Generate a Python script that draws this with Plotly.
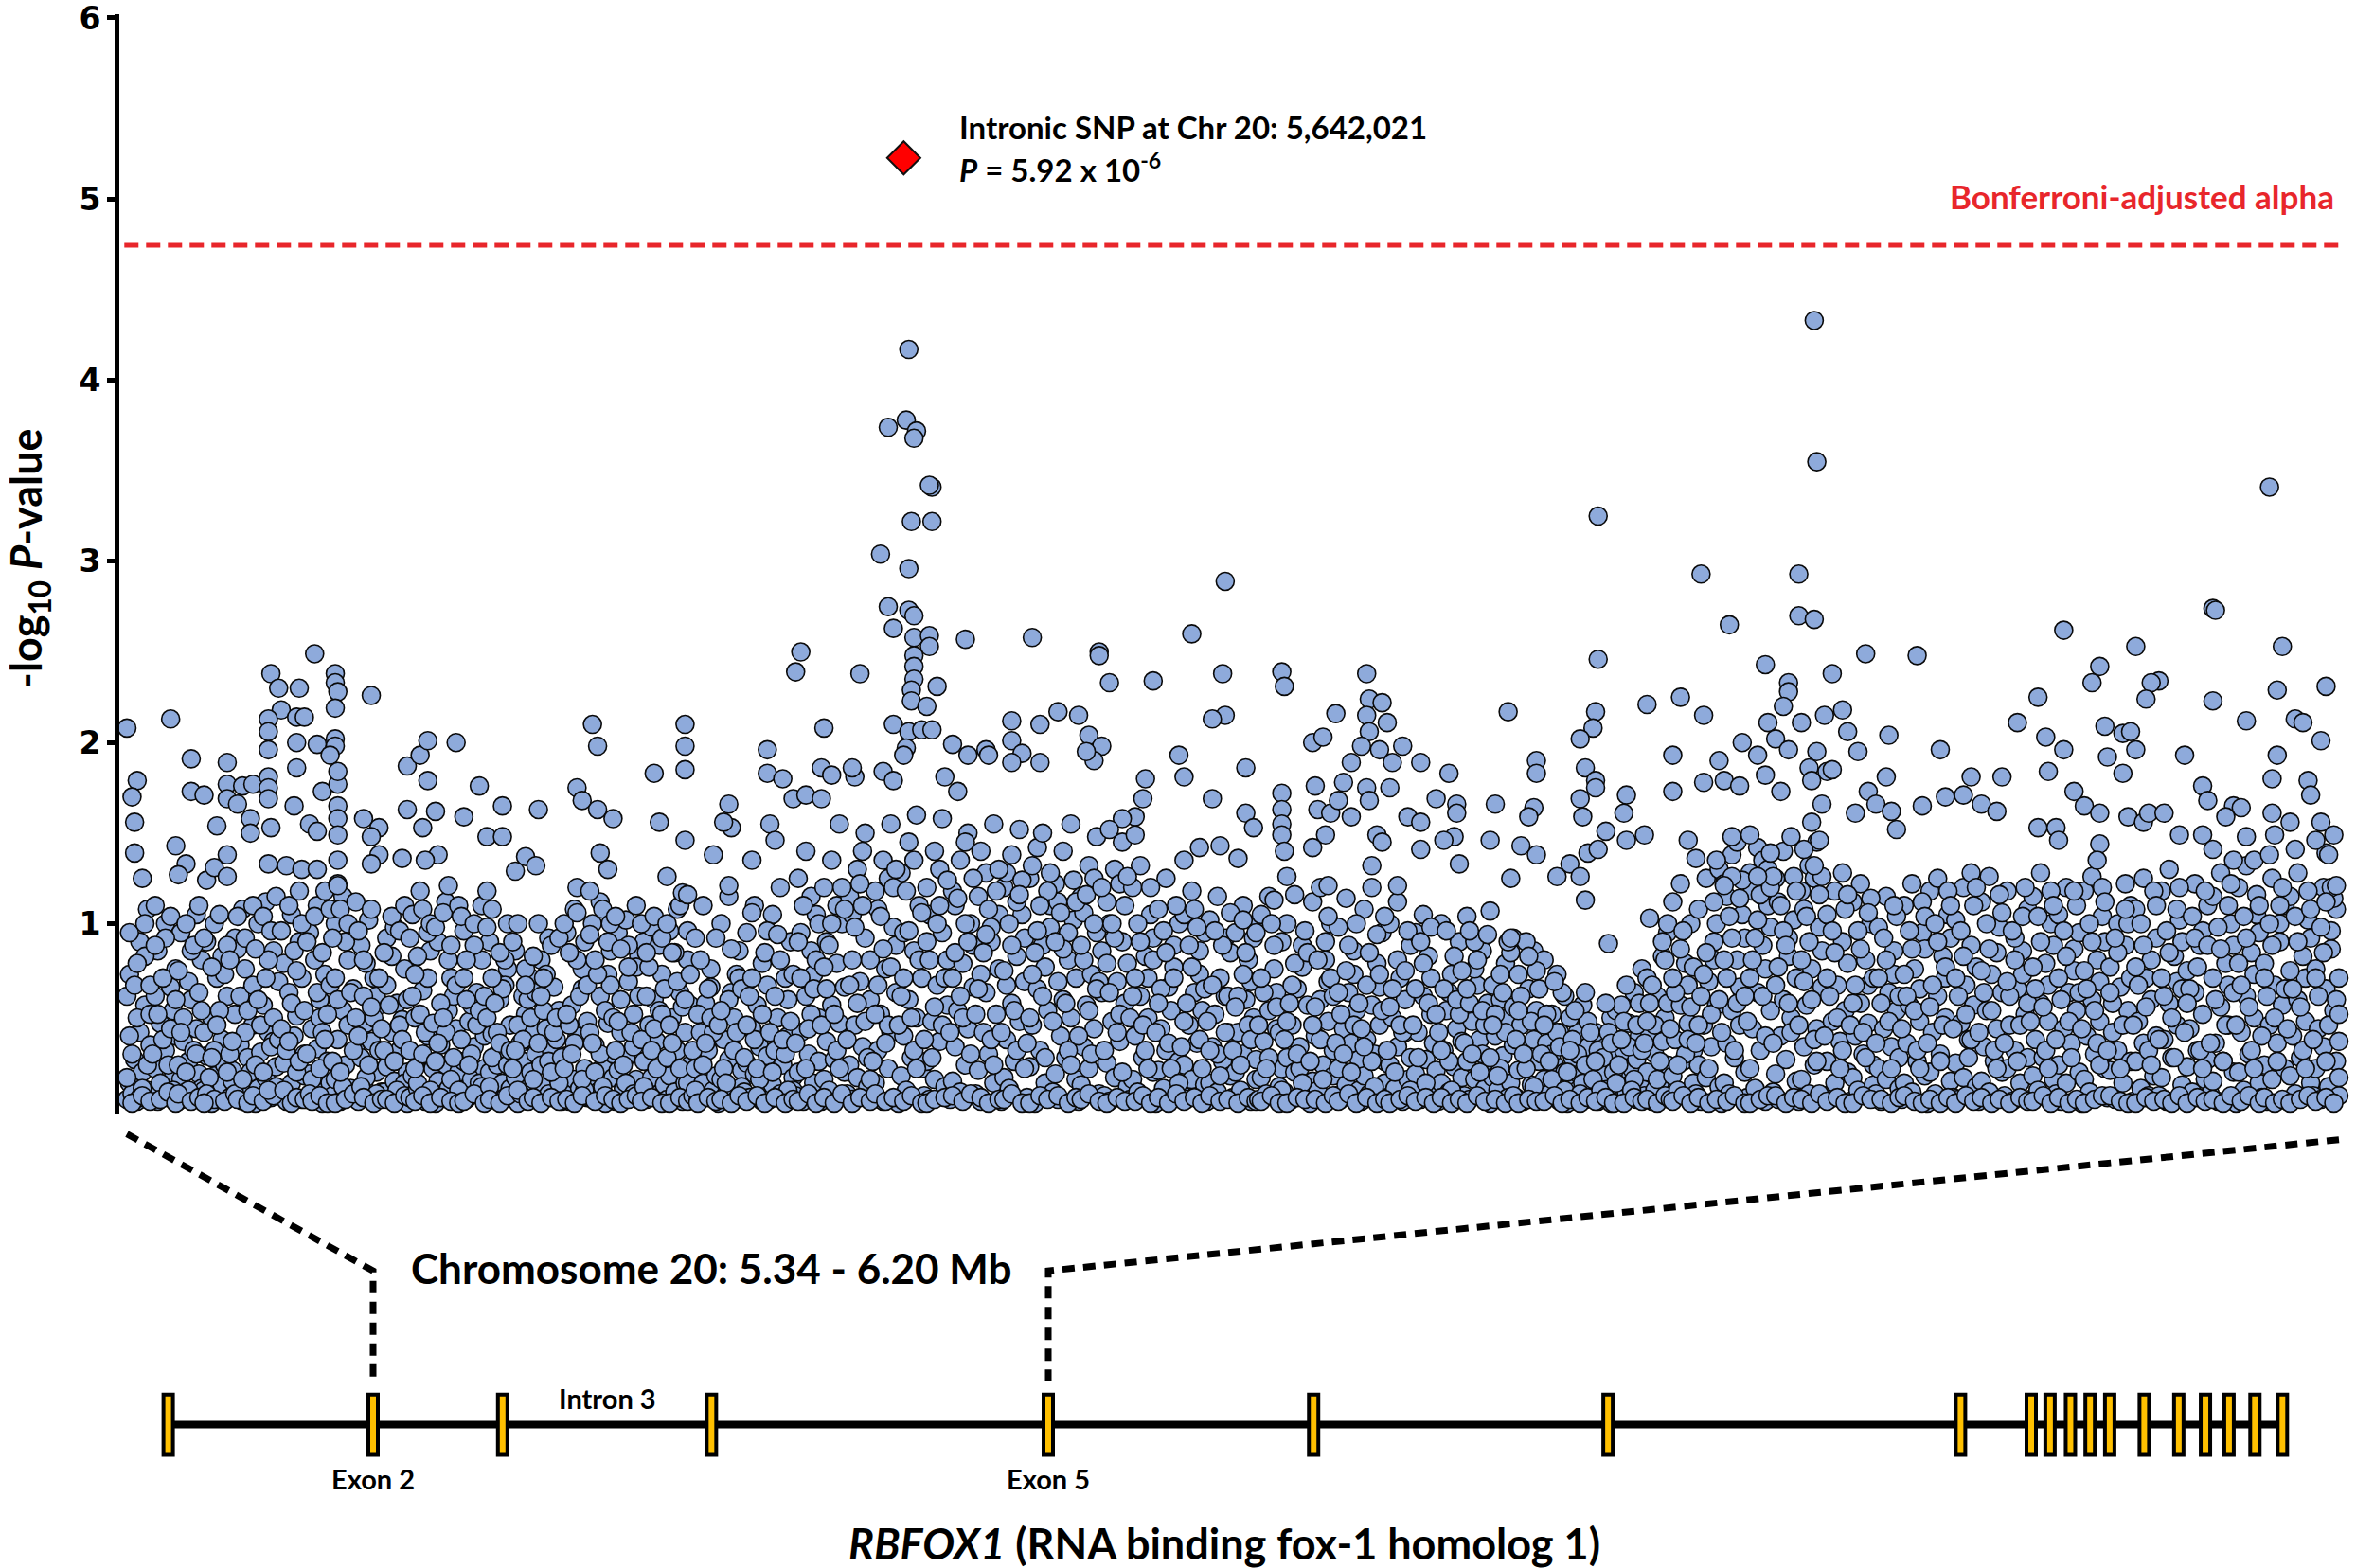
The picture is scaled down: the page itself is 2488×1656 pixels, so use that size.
import math
import plotly.graph_objects as go

# ---------------- data ----------------
REGION_START_MB = 5.34
REGION_END_MB = 6.20
LEAD_SNP_MB = 5.642021
LEAD_SNP_P = 5.92e-6
BONFERRONI_NEG_LOG10 = 4.745
Y_TICKS = [1, 2, 3, 4, 5, 6]

# SNPs: (position as kb offset from 5.34 Mb, -log10 P x 100)
snps_5340_5450 = [
    (0,3),(1,12),(2,6),(3,25),(4,2),(5,40),(6,18),(7,55),(8,8),(9,33),(1,72),(5,90),(8,108),(0,60),
    (10,5),(11,20),(12,2),(13,45),(14,11),(15,30),(16,4),(17,65),(18,15),(19,38),(12,85),(15,100),(18,52),(11,110),
    (20,2),(21,14),(22,35),(23,7),(24,24),(25,58),(26,3),(27,42),(28,17),(29,80),(21,95),(24,68),(27,105),(29,9),
    (30,8),(31,27),(32,3),(33,48),(34,16),(35,70),(36,5),(37,36),(38,22),(39,60),(31,90),(34,100),(37,11),(33,1),
    (40,4),(41,19),(42,50),(43,10),(44,33),(45,2),(46,75),(47,26),(48,6),(49,44),(42,92),(45,108),(48,62),(41,13),
    (50,1),(51,9),(52,29),(53,55),(54,15),(55,40),(56,4),(57,85),(58,21),(59,68),(51,100),(54,112),(57,35),(59,7),
    (60,6),(61,23),(62,2),(63,62),(64,12),(65,38),(66,49),(67,90),(68,3),(69,28),(61,78),(64,105),(67,118),(69,16),
    (70,3),(71,17),(72,42),(73,8),(74,31),(75,58),(76,1),(77,72),(78,24),(79,12),(71,95),(74,110),(77,118),(75,48),
    (80,5),(81,14),(82,36),(83,2),(84,52),(85,22),(86,80),(87,9),(88,64),(89,30),(81,100),(84,115),(87,45),(82,122),
    (90,2),(91,26),(92,11),(93,45),(94,4),(95,35),(96,70),(97,18),(98,55),(99,7),(91,88),(94,102),(97,60),(93,15),
    (100,7),(101,21),(102,3),(103,40),(104,13),(105,56),(106,30),(107,5),(108,75),(109,18),(101,92),(104,98),(107,47),(109,1),
    (0,15),(2,28),(4,48),(6,9),(8,22),(9,50),(3,66),(7,82),(1,38),(5,4),(2,1),(6,5),(9,2),
    (10,28),(12,50),(14,36),(16,22),(18,8),(19,75),(11,60),(13,12),(17,42),(15,92),(13,3),(16,7),(19,1),
    (20,22),(22,48),(24,8),(26,30),(28,62),(21,40),(23,18),(25,85),(27,28),(29,52),(20,6),(25,2),(28,4),
    (30,40),(32,15),(34,30),(36,52),(38,72),(31,6),(33,26),(35,44),(37,82),(39,18),(34,3),(38,2),(30,1),
    (40,28),(42,6),(44,60),(46,40),(48,18),(41,35),(43,86),(45,14),(47,52),(49,66),(43,3),(47,1),(49,5),
    (50,22),(52,44),(54,70),(56,32),(58,10),(51,58),(53,18),(55,80),(57,48),(59,36),(53,2),(57,5),(55,8),
    (60,42),(62,30),(64,56),(66,18),(68,70),(61,8),(63,35),(65,85),(67,24),(69,52),(64,1),(66,4),(69,3),
    (70,28),(72,14),(74,62),(76,40),(78,50),(71,6),(73,80),(75,20),(77,36),(79,66),(72,2),(75,5),(78,1),
    (80,24),(82,58),(84,10),(86,44),(88,30),(81,70),(83,18),(85,90),(87,62),(89,48),(81,1),(85,3),(88,6),
    (90,38),(92,60),(94,22),(96,48),(98,30),(91,10),(93,78),(95,54),(97,6),(99,42),(92,4),(96,1),(99,3),
    (100,30),(102,55),(104,24),(106,44),(108,12),(101,66),(103,82),(105,8),(107,36),(109,58),(101,3),(104,1),(108,5),
    (1,95),(4,78),(7,100),(9,66),(11,88),(14,70),(17,104),(19,58),(20,74),(23,100),(26,88),(28,110),
    (30,92),(33,76),(36,105),(39,88),(40,80),(43,104),(46,92),(49,110),(50,86),(53,104),(56,96),(58,115),
    (60,96),(63,110),(66,74),(68,100),(70,90),(73,104),(76,84),(79,108),(80,92),(83,108),(86,100),(89,112),
    (90,96),(92,80),(95,108),(98,70),(100,84),(103,104),(106,96),(108,110),
    (73,249),(56,238),(59,230),(67,230),(81,238),(81,233),(82,228),(81,219),(95,226),(17,213),(0,208),(60,218),
    (55,213),(55,206),(55,196),(66,214),(69,214),(66,200),(74,199),(81,202),(81,198),(79,193),(25,191),(39,189),
    (4,179),(2,170),(25,173),(30,171),(39,177),(39,169),(45,176),(49,177),(55,181),(55,175),(55,169),(66,186),
    (76,173),(82,177),(82,184),(65,165),(71,155),(74,151),(43,166),(48,158),(48,150),(56,153),(35,154),(3,156),
    (3,139),(6,125),(19,143),(23,133),(20,127),(39,138),(82,165),(82,158),(82,149),(92,158),(98,153),(95,148),
    (98,138),(95,133),(62,132),(68,130),(74,130),(55,133),(82,135),(82,121),(31,124),(34,131),(39,126),(107,136),
    (109,187),(109,163),
]

snps_5450_5560 = [
    (110,4),(111,16),(112,48),(113,9),(114,27),(115,63),(116,2),(117,38),(118,85),(119,20),(111,105),(114,118),(117,70),(113,12),
    (120,1),(121,13),(122,33),(123,6),(124,22),(125,52),(126,70),(127,3),(128,42),(129,18),(121,90),(124,112),(127,60),(125,9),
    (130,8),(131,24),(132,3),(133,46),(134,14),(135,32),(136,62),(137,5),(138,80),(139,20),(131,96),(134,55),(137,12),(139,38),
    (140,2),(141,18),(142,39),(143,7),(144,28),(145,58),(146,12),(147,4),(148,75),(149,44),(141,90),(144,22),(147,66),(149,9),
    (150,5),(151,15),(152,1),(153,34),(154,24),(155,50),(156,9),(157,70),(158,40),(159,3),(151,85),(154,60),(157,18),(159,28),
    (160,3),(161,22),(162,10),(163,42),(164,6),(165,30),(166,65),(167,16),(168,52),(169,2),(161,80),(164,92),(167,36),(169,12),
    (170,6),(171,27),(172,2),(173,55),(174,14),(175,38),(176,9),(177,75),(178,20),(179,46),(171,95),(174,108),(177,64),(179,4),
    (180,4),(181,12),(182,33),(183,7),(184,60),(185,21),(186,1),(187,45),(188,85),(189,28),(181,100),(184,112),(187,72),(189,15),
    (190,2),(191,19),(192,40),(193,9),(194,26),(195,68),(196,5),(197,50),(198,14),(199,82),(191,95),(194,102),(197,32),(199,3),
    (200,8),(201,24),(202,3),(203,44),(204,15),(205,58),(206,35),(207,6),(208,72),(209,18),(201,90),(204,98),(207,52),(209,11),
    (210,3),(211,16),(212,48),(213,7),(214,30),(215,62),(216,2),(217,40),(218,80),(219,22),(211,96),(214,108),(217,12),(219,55),
    (110,30),(112,20),(114,50),(116,40),(118,8),(111,60),(113,82),(115,28),(117,95),(119,45),(112,2),(115,5),(118,1),
    (120,24),(122,56),(124,40),(126,14),(128,66),(121,34),(123,48),(125,80),(127,26),(129,8),(122,4),(126,2),(129,1),
    (130,36),(132,58),(134,28),(136,44),(138,10),(131,70),(133,22),(135,88),(137,52),(139,60),(131,2),(135,6),(139,1),
    (140,48),(142,26),(144,40),(146,64),(148,22),(141,10),(143,56),(145,34),(147,80),(149,30),(141,3),(145,1),(148,5),
    (150,20),(152,44),(154,36),(156,58),(158,14),(151,30),(153,6),(155,75),(157,48),(159,62),(152,8),(156,2),(158,4),
    (160,34),(162,52),(164,24),(166,40),(168,12),(161,60),(163,72),(165,18),(167,48),(169,26),(161,1),(165,4),(168,2),
    (170,20),(172,44),(174,34),(176,60),(178,8),(171,50),(173,28),(175,80),(177,14),(179,66),(171,3),(174,1),(177,5),
    (180,40),(182,18),(184,28),(186,52),(188,66),(181,34),(183,72),(185,10),(187,90),(189,48),(182,2),(186,5),(189,3),
    (190,30),(192,58),(194,12),(196,40),(198,76),(191,46),(193,22),(195,88),(197,6),(199,60),(192,1),(195,3),(198,5),
    (200,36),(202,60),(204,30),(206,20),(208,50),(201,10),(203,76),(205,42),(207,88),(209,64),(200,2),(204,4),(208,1),
    (210,26),(212,34),(214,68),(216,54),(218,12),(211,44),(213,84),(215,20),(217,58),(219,72),(211,1),(215,4),(218,2),
    (110,92),(112,72),(115,108),(118,100),(120,98),(123,106),(126,88),(129,110),(130,104),(132,80),(135,100),(138,110),
    (140,98),(142,70),(145,84),(148,100),(150,90),(152,100),(155,66),(158,82),(160,100),(162,70),(165,88),(168,92),
    (170,100),(172,84),(175,106),(178,90),(180,94),(182,80),(185,108),(188,100),(190,104),(192,86),(195,76),(198,110),
    (200,100),(202,84),(205,104),(208,92),(210,100),(212,84),(215,110),(218,96),
    (114,193),(117,201),(128,200),(117,179),(120,162),(115,153),(131,159),(137,176),(146,165),(140,148),(146,148),
    (160,163),(181,210),(183,198),(175,175),(177,168),(183,163),(189,158),(205,183),(207,156),(217,210),(217,198),
    (217,185),(217,146),(184,139),(187,130),(155,137),(159,132),(151,129),(210,126),(216,117),(121,138),(125,121),
    (116,135),(140,118),(142,108),(175,120),(180,118),(218,116),
]

snps_5560_5780 = [
    (220,5),(221,20),(222,2),(223,40),(224,12),(225,56),(226,30),(227,75),(228,8),(229,45),(221,92),(224,110),(227,65),(229,16),
    (230,1),(231,14),(232,36),(233,6),(234,25),(235,62),(236,48),(237,3),(238,85),(239,19),(231,100),(234,115),(237,72),(239,10),
    (240,7),(241,23),(242,4),(243,42),(244,17),(245,55),(246,32),(247,78),(248,10),(249,66),(241,95),(244,110),(247,2),(249,27),
    (250,3),(251,11),(252,30),(253,48),(254,6),(255,22),(256,70),(257,38),(258,90),(259,15),(251,105),(254,120),(257,58),(259,8),
    (260,5),(261,18),(262,40),(263,2),(264,60),(265,28),(266,85),(267,12),(268,105),(269,48),(261,125),(264,140),(267,72),(269,24),(262,95),(266,115),
    (270,2),(271,14),(272,35),(273,8),(274,55),(275,25),(276,78),(277,45),(278,100),(279,18),(271,120),(274,135),(277,155),(279,65),(272,90),(276,110),
    (280,6),(281,22),(282,3),(283,44),(284,15),(285,68),(286,32),(287,92),(288,10),(289,58),(281,115),(284,130),(287,150),(289,80),(282,105),(286,140),
    (290,4),(291,12),(292,30),(293,50),(294,2),(295,75),(296,20),(297,40),(298,98),(299,62),(291,118),(294,135),(297,155),(299,88),(292,108),(296,125),
    (300,1),(301,16),(302,38),(303,8),(304,58),(305,26),(306,85),(307,48),(308,110),(309,20),(301,128),(304,145),(307,160),(309,70),(302,95),(306,135),
    (310,5),(311,24),(312,3),(313,46),(314,14),(315,66),(316,35),(317,95),(318,10),(319,55),(311,120),(314,140),(317,158),(319,80),(312,105),(316,130),
    (320,3),(321,13),(322,32),(323,52),(324,7),(325,78),(326,22),(327,42),(328,100),(329,65),(321,118),(324,135),(327,150),(329,88),(322,110),(326,145),
    (330,6),(331,19),(332,2),(333,40),(334,62),(335,28),(336,90),(337,12),(338,50),(339,75),(331,115),(334,128),(337,155),(339,105),(332,140),(336,98),
    (340,2),(341,15),(342,36),(343,9),(344,56),(345,24),(346,82),(347,46),(348,105),(349,68),(341,120),(344,138),(347,152),(349,92),(342,128),(346,112),
    (350,4),(351,21),(352,44),(353,1),(354,64),(355,30),(356,88),(357,12),(358,52),(359,110),(351,125),(354,142),(357,76),(359,98),(352,132),(356,150),
    (360,7),(361,17),(362,3),(363,38),(364,58),(365,26),(366,80),(367,48),(368,102),(369,14),(361,122),(364,140),(367,155),(369,70),(362,112),(366,95),
    (370,2),(371,11),(372,32),(373,55),(374,20),(375,72),(376,42),(377,95),(378,6),(379,62),(371,115),(374,132),(377,148),(379,85),(372,106),(376,125),
    (380,5),(381,23),(382,2),(383,46),(384,15),(385,68),(386,35),(387,90),(388,56),(389,10),(381,112),(384,130),(387,145),(389,78),(382,100),(386,122),
    (390,3),(391,14),(392,38),(393,7),(394,60),(395,26),(396,82),(397,48),(398,105),(399,18),(391,120),(394,132),(397,70),(399,92),
    (400,1),(401,19),(402,42),(403,9),(404,30),(405,65),(406,52),(407,88),(408,4),(409,24),(401,108),(404,125),(407,76),(409,100),
    (410,6),(411,22),(412,3),(413,44),(414,14),(415,62),(416,34),(417,85),(418,52),(419,11),(411,105),(414,118),(417,72),(419,95),
    (420,2),(421,12),(422,32),(423,50),(424,7),(425,70),(426,24),(427,92),(428,40),(429,16),(421,102),(424,115),(427,60),(429,84),
    (430,4),(431,18),(432,40),(433,8),(434,28),(435,58),(436,80),(437,2),(438,48),(439,14),(431,95),(434,110),(437,68),(439,25),
    (220,30),(222,50),(224,22),(226,64),(228,40),(221,8),(223,80),(225,34),(227,48),(229,92),(222,1),(226,4),(229,2),
    (230,44),(232,20),(234,58),(236,30),(238,70),(231,52),(233,12),(235,86),(237,40),(239,64),(231,3),(235,1),(238,5),
    (240,26),(242,60),(244,36),(246,14),(248,84),(241,44),(243,70),(245,20),(247,50),(249,96),(241,2),(245,5),(248,1),
    (250,40),(252,60),(254,80),(256,28),(258,46),(251,18),(253,94),(255,36),(257,8),(259,72),(252,4),(256,1),(259,3),
    (260,34),(262,70),(264,20),(266,50),(268,80),(261,90),(263,110),(265,42),(267,64),(269,100),(261,2),(265,6),(268,1),
    (270,44),(272,64),(274,100),(276,30),(278,120),(271,76),(273,88),(275,50),(277,20),(279,108),(271,4),(275,1),(278,6),
    (280,36),(282,80),(284,56),(286,110),(288,26),(281,66),(283,98),(285,122),(287,46),(289,14),(282,1),(285,4),(289,2),
    (290,24),(292,66),(294,86),(296,44),(298,120),(291,50),(293,104),(295,34),(297,76),(299,130),(291,6),(295,2),(298,4),
    (300,44),(302,70),(304,96),(306,30),(308,80),(301,60),(303,118),(305,48),(307,20),(309,106),(302,2),(305,5),(309,1),
    (310,36),(312,80),(314,54),(316,110),(318,70),(311,90),(313,26),(315,100),(317,44),(319,124),(311,1),(314,3),(318,4),
    (320,40),(322,84),(324,60),(326,100),(328,28),(321,70),(323,114),(325,48),(327,90),(329,125),(321,5),(325,2),(328,6),
    (330,50),(332,72),(334,94),(336,36),(338,118),(331,64),(333,84),(335,108),(337,22),(339,130),(332,4),(335,1),(339,3),
    (340,40),(342,66),(344,88),(346,30),(348,124),(341,74),(343,100),(345,52),(347,116),(349,20),(341,3),(344,6),(348,1),
    (350,34),(352,72),(354,96),(356,60),(358,118),(351,48),(353,84),(355,110),(357,26),(359,128),(351,1),(355,5),(358,3),
    (360,46),(362,68),(364,86),(366,30),(368,124),(361,90),(363,106),(365,56),(367,22),(369,112),(362,5),(366,1),(369,4),
    (370,38),(372,80),(374,52),(376,100),(378,68),(371,88),(373,116),(375,28),(377,64),(379,120),(371,3),(374,6),(378,2),
    (380,30),(382,62),(384,92),(386,50),(388,110),(381,78),(383,100),(385,40),(387,18),(389,126),(381,1),(385,4),(388,2),
    (390,48),(392,70),(394,90),(396,30),(398,120),(391,60),(393,100),(395,44),(397,20),(399,80),(392,2),(395,5),(398,1),
    (400,40),(402,64),(404,84),(406,20),(408,110),(401,56),(403,96),(405,34),(407,70),(409,12),(401,4),(405,1),(408,6),
    (410,32),(412,56),(414,76),(416,98),(418,20),(411,46),(413,88),(415,108),(417,36),(419,64),(411,2),(415,4),(418,1),
    (420,46),(422,66),(424,28),(426,88),(428,60),(421,30),(423,96),(425,16),(427,40),(429,106),(421,5),(425,2),(428,3),
    (430,30),(432,60),(434,72),(436,44),(438,92),(431,54),(433,22),(435,84),(437,36),(439,100),(432,1),(436,4),(439,2),
    (304,417),(296,374),(303,378),(307,372),(306,368),(313,341),(312,342),(305,322),(313,322),(293,304),(304,296),
    (296,275),(304,273),(306,270),(298,263),(306,258),(312,259),(312,253),(306,248),(306,242),(306,235),(305,229),
    (305,223),(315,231),(311,220),(262,250),(260,239),(285,238),(326,257),(352,258),(378,250),(378,248),(382,233),
    (399,234),(427,289),(414,260),(426,238),(427,215),(422,213),(271,208),(249,196),(249,183),(255,180),(298,210),
    (304,206),(309,207),(313,207),(303,197),(302,193),(321,199),(327,193),(334,196),(335,193),(344,212),(355,210),
    (344,201),(348,194),(344,189),(355,189),(362,217),(370,215),(374,204),(379,198),(376,190),(373,195),(409,193),
    (411,181),(435,186),(396,180),(395,169),(392,159),(422,169),(435,161),(438,153),(234,166),(235,153),(232,156),
    (228,138),(234,121),(243,106),(250,155),(252,146),(243,135),(270,186),(274,182),(283,181),(282,186),(259,169),
    (264,171),(270,169),(294,184),(298,179),(318,181),(323,173),(392,149),(387,158),(382,152),(411,135),(417,142),
    (425,143),(432,136),(434,102),(439,95),
]

snps_5780_5940 = [
    (440,3),(441,15),(442,35),(443,6),(444,52),(445,24),(446,75),(447,42),(448,10),(449,90),(441,105),(444,115),(447,62),(449,20),
    (450,7),(451,26),(452,2),(453,44),(454,18),(455,64),(456,32),(457,88),(458,12),(459,55),(451,100),(454,116),(457,76),(459,4),
    (460,1),(461,13),(462,38),(463,8),(464,58),(465,22),(466,80),(467,46),(468,100),(469,30),(461,112),(464,120),(467,68),(469,16),
    (470,5),(471,20),(472,3),(473,42),(474,11),(475,62),(476,34),(477,85),(478,52),(479,25),(471,98),(474,114),(477,72),(479,8),
    (480,2),(481,16),(482,36),(483,6),(484,55),(485,28),(486,78),(487,44),(488,95),(489,12),(481,108),(484,120),(487,65),(489,24),
    (490,4),(491,22),(492,48),(493,9),(494,32),(495,70),(496,2),(497,58),(498,14),(499,88),(491,100),(494,112),(497,40),(499,26),
    (500,6),(501,17),(502,40),(503,3),(504,60),(505,25),(506,82),(507,50),(508,10),(509,34),(501,95),(504,105),(507,70),(509,19),
    (510,2),(511,12),(512,30),(513,52),(514,7),(515,72),(516,21),(517,42),(518,90),(519,15),(511,100),(514,62),(517,4),(519,35),
    (520,5),(521,24),(522,3),(523,46),(524,14),(525,66),(526,36),(527,85),(528,9),(529,56),(521,104),(524,75),(527,28),(529,18),
    (530,1),(531,15),(532,38),(533,8),(534,58),(535,27),(536,78),(537,48),(538,12),(539,92),(531,66),(534,20),(537,4),(539,33),
    (540,4),(541,19),(542,44),(543,2),(544,30),(545,64),(546,11),(547,85),(548,52),(549,24),(541,72),(544,90),(547,36),(549,7),
    (550,3),(551,14),(552,34),(553,6),(554,50),(555,22),(556,72),(557,40),(558,10),(559,60),(551,80),(554,28),(557,2),(559,18),
    (560,1),(561,10),(562,26),(563,5),(564,40),(565,16),(566,55),(567,3),(568,32),(569,20),(561,48),(564,8),(567,62),(569,13),
    (570,4),(571,12),(572,2),(573,22),(574,8),(575,35),(576,16),(577,48),(578,6),(579,28),(571,40),(574,18),(577,1),(579,52),
    (580,2),(581,14),(582,30),(583,7),(584,45),(585,20),(586,62),(587,3),(588,38),(589,75),(581,55),(584,11),(587,25),(589,9),
    (590,5),(591,18),(592,40),(593,2),(594,28),(595,60),(596,12),(597,82),(598,48),(599,95),(591,70),(594,8),(597,35),(599,22),
    (440,44),(442,62),(444,26),(446,88),(448,40),(441,70),(443,20),(445,100),(447,54),(449,8),(441,2),(445,5),(448,1),
    (450,36),(452,56),(454,78),(456,20),(458,96),(451,46),(453,66),(455,28),(457,12),(459,84),(451,1),(455,4),(458,3),
    (460,24),(462,54),(464,36),(466,90),(468,70),(461,44),(463,80),(465,14),(467,104),(469,60),(462,3),(466,1),(469,5),
    (470,34),(472,50),(474,74),(476,18),(478,100),(471,62),(473,28),(475,88),(477,44),(479,56),(471,2),(475,6),(478,1),
    (480,42),(482,66),(484,24),(486,94),(488,52),(481,32),(483,84),(485,10),(487,72),(489,104),(482,4),(486,1),(489,3),
    (490,30),(492,64),(494,80),(496,40),(498,96),(491,54),(493,18),(495,44),(497,74),(499,8),(491,1),(495,3),(498,5),
    (500,44),(502,26),(504,78),(506,56),(508,34),(501,64),(503,90),(505,12),(507,98),(509,50),(501,2),(505,4),(508,1),
    (510,40),(512,64),(514,24),(516,82),(518,50),(511,30),(513,96),(515,8),(517,58),(519,74),(511,4),(515,1),(518,3),
    (520,34),(522,56),(524,90),(526,18),(528,44),(521,64),(523,28),(525,80),(527,52),(529,94),(521,1),(525,5),(528,2),
    (530,26),(532,50),(534,72),(536,40),(538,84),(531,44),(533,16),(535,62),(537,90),(539,54),(532,3),(536,1),(539,5),
    (540,36),(542,60),(544,20),(546,46),(548,74),(541,52),(543,28),(545,82),(547,10),(549,64),(541,1),(545,3),(548,2),
    (550,28),(552,50),(554,14),(556,40),(558,62),(551,44),(553,24),(555,68),(557,32),(559,8),(551,2),(555,5),(558,1),
    (560,18),(562,36),(564,28),(566,12),(568,46),(561,30),(563,52),(565,6),(567,22),(569,40),(561,3),(565,1),(568,4),
    (570,14),(572,30),(574,26),(576,40),(578,18),(571,24),(573,8),(575,56),(577,34),(579,12),(571,2),(575,4),(578,1),
    (580,22),(582,46),(584,32),(586,14),(588,56),(581,36),(583,66),(585,8),(587,44),(589,30),(582,1),(586,4),(589,2),
    (590,34),(592,56),(594,44),(596,24),(598,80),(591,46),(593,66),(595,14),(597,90),(599,56),(591,3),(595,1),(598,5),
    (572,325),(572,246),(449,239),(450,231),(482,238),(470,216),(483,224),(488,222),(482,215),(490,211),(483,206),
    (537,217),(571,217),(570,208),(565,202),(591,221),(461,200),(465,203),(480,198),(487,196),(496,198),(492,189),
    (503,189),(476,189),(473,178),(462,176),(449,172),(449,163),(449,155),(449,149),(450,140),(482,175),(483,168),
    (491,175),(514,183),(509,169),(517,166),(517,161),(532,166),(548,190),(548,183),(547,164),(545,159),(567,186),
    (571,179),(571,175),(565,169),(566,159),(583,171),(582,161),(575,151),(583,146),(590,149),(592,103),(599,100),
    (466,149),(463,163),(468,161),(471,168),(476,159),(461,142),(467,121),(451,126),(446,113),(486,149),(488,145),
    (484,132),(494,121),(498,159),(503,156),(503,141),(516,148),(518,133),(512,146),(530,146),(538,125),(542,143),
    (548,138),(556,126),(561,133),(568,139),(572,141),(565,126),(567,113),(576,89),(530,107),(538,92),(522,96),
]

snps_5940_6200 = [
    (600,3),(601,16),(602,36),(603,8),(604,55),(605,24),(606,78),(607,45),(608,100),(609,12),(601,112),(604,122),(607,66),(609,30),
    (610,6),(611,22),(612,2),(613,44),(614,15),(615,68),(616,32),(617,90),(618,55),(619,10),(611,108),(614,125),(617,80),(619,130),
    (620,1),(621,12),(622,34),(623,6),(624,52),(625,26),(626,80),(627,44),(628,105),(629,18),(621,122),(624,138),(627,65),(629,92),(622,115),(626,145),
    (630,4),(631,20),(632,42),(633,9),(634,62),(635,30),(636,88),(637,2),(638,110),(639,52),(631,128),(634,142),(637,75),(639,98),(632,118),(636,135),
    (640,7),(641,17),(642,3),(643,38),(644,58),(645,25),(646,82),(647,48),(648,102),(649,13),(641,125),(644,140),(647,148),(649,70),(642,112),(646,92),
    (650,2),(651,14),(652,32),(653,55),(654,6),(655,75),(656,22),(657,42),(658,98),(659,65),(651,118),(654,132),(657,145),(659,85),(652,108),(656,125),
    (660,5),(661,24),(662,3),(663,46),(664,12),(665,66),(666,35),(667,90),(668,52),(669,18),(661,105),(664,118),(667,128),(669,78),
    (670,2),(671,15),(672,38),(673,8),(674,56),(675,28),(676,80),(677,45),(678,100),(679,11),(671,112),(674,122),(677,66),(679,22),
    (680,6),(681,20),(682,2),(683,42),(684,14),(685,62),(686,32),(687,85),(688,52),(689,9),(681,98),(684,115),(687,72),(689,26),
    (690,3),(691,12),(692,34),(693,55),(694,7),(695,75),(696,24),(697,46),(698,95),(699,16),(691,110),(694,122),(697,64),(699,86),
    (700,1),(701,18),(702,40),(703,6),(704,60),(705,28),(706,82),(707,48),(708,105),(709,13),(701,118),(704,125),(707,70),(709,92),
    (710,4),(711,23),(712,3),(713,45),(714,15),(715,66),(716,36),(717,88),(718,55),(719,10),(711,102),(714,120),(717,128),(719,76),
    (720,2),(721,13),(722,32),(723,52),(724,7),(725,72),(726,24),(727,42),(728,98),(729,62),(721,112),(724,126),(727,84),(729,18),
    (730,5),(731,20),(732,44),(733,2),(734,30),(735,64),(736,12),(737,85),(738,50),(739,108),(731,118),(734,92),(737,72),(739,26),
    (740,3),(741,16),(742,36),(743,8),(744,56),(745,26),(746,78),(747,46),(748,100),(749,14),(741,115),(744,128),(747,66),(749,88),
    (750,6),(751,22),(752,2),(753,42),(754,12),(755,62),(756,34),(757,86),(758,52),(759,18),(751,105),(754,120),(757,74),(759,95),
    (760,1),(761,14),(762,38),(763,7),(764,58),(765,28),(766,80),(767,46),(768,104),(769,20),(761,118),(764,126),(767,68),(769,90),
    (770,4),(771,19),(772,40),(773,3),(774,30),(775,65),(776,12),(777,88),(778,52),(779,110),(771,76),(774,100),(777,122),(779,24),
    (780,2),(781,24),(782,46),(783,9),(784,34),(785,70),(786,5),(787,58),(788,16),(789,92),(781,108),(784,125),(787,80),(789,38),
    (790,5),(791,15),(792,36),(793,2),(794,56),(795,26),(796,82),(797,44),(798,102),(799,11),(791,118),(794,130),(797,68),(799,90),
    (800,3),(801,21),(802,42),(803,7),(804,62),(805,30),(806,88),(807,50),(808,14),(809,110),(801,74),(804,122),(807,96),(809,25),
    (810,6),(811,13),(812,34),(813,2),(814,54),(815,24),(816,78),(817,44),(818,100),(819,18),(811,115),(814,128),(817,66),(819,88),
    (820,1),(821,18),(822,40),(823,8),(824,60),(825,28),(826,84),(827,48),(828,105),(829,12),(821,120),(824,132),(827,72),(829,95),
    (830,4),(831,22),(832,2),(833,44),(834,14),(835,66),(836,34),(837,90),(838,55),(839,110),(831,78),(834,125),(837,100),(839,20),
    (840,2),(841,16),(842,38),(843,6),(844,58),(845,26),(846,82),(847,46),(848,102),(849,12),(841,115),(844,128),(847,70),(849,92),
    (850,5),(851,20),(852,42),(853,3),(854,32),(855,64),(856,10),(857,86),(858,52),(859,108),(851,75),(854,120),(857,96),(859,24),
    (860,5),(860,35),
    (600,42),(602,62),(604,86),(606,28),(608,54),(601,70),(603,22),(605,96),(607,36),(609,76),(601,2),(605,5),(608,1),
    (610,34),(612,60),(614,84),(616,50),(618,100),(611,44),(613,72),(615,20),(617,112),(619,58),(611,4),(615,1),(618,3),
    (620,40),(622,70),(624,92),(626,56),(628,124),(621,80),(623,104),(625,30),(627,114),(629,60),(622,2),(625,5),(629,1),
    (630,46),(632,80),(634,102),(636,60),(638,130),(631,70),(633,92),(635,116),(637,38),(639,120),(631,1),(635,3),(638,5),
    (640,34),(642,76),(644,96),(646,56),(648,126),(641,66),(643,110),(645,88),(647,40),(649,118),(641,5),(645,1),(648,4),
    (650,44),(652,68),(654,90),(656,36),(658,116),(651,80),(653,104),(655,58),(657,24),(659,126),(651,3),(655,1),(658,6),
    (660,38),(662,60),(664,84),(666,20),(668,108),(661,70),(663,96),(665,48),(667,30),(669,116),(661,2),(665,4),(668,1),
    (670,44),(672,66),(674,86),(676,26),(678,114),(671,56),(673,96),(675,40),(677,106),(679,70),(671,1),(675,5),(678,3),
    (680,34),(682,56),(684,80),(686,20),(688,104),(681,70),(683,92),(685,46),(687,110),(689,60),(682,3),(686,1),(689,4),
    (690,42),(692,60),(694,86),(696,30),(698,112),(691,72),(693,96),(695,52),(697,20),(699,104),(691,5),(695,2),(698,1),
    (700,34),(702,66),(704,90),(706,44),(708,118),(701,54),(703,100),(705,24),(707,76),(709,110),(701,3),(705,1),(708,4),
    (710,42),(712,60),(714,82),(716,26),(718,110),(711,70),(713,96),(715,50),(717,36),(719,120),(711,1),(715,5),(718,2),
    (720,40),(722,62),(724,86),(726,30),(728,116),(721,74),(723,100),(725,52),(727,20),(729,106),(721,4),(725,1),(728,3),
    (730,34),(732,60),(734,80),(736,44),(738,120),(731,68),(733,96),(735,24),(737,104),(739,56),(732,1),(736,4),(739,2),
    (740,46),(742,64),(744,90),(746,30),(748,118),(741,76),(743,104),(745,54),(747,20),(749,110),(741,2),(745,5),(748,1),
    (750,36),(752,58),(754,82),(756,26),(758,110),(751,70),(753,96),(755,46),(757,118),(759,62),(751,4),(755,1),(758,3),
    (760,42),(762,64),(764,90),(766,34),(768,120),(761,74),(763,100),(765,52),(767,22),(769,112),(761,1),(765,3),(768,5),
    (770,30),(772,56),(774,84),(776,44),(778,100),(771,62),(773,92),(775,20),(777,108),(779,70),(771,5),(775,2),(778,1),
    (780,44),(782,66),(784,88),(786,30),(788,118),(781,76),(783,100),(785,54),(787,22),(789,110),(781,1),(785,4),(788,2),
    (790,36),(792,60),(794,84),(796,26),(798,120),(791,70),(793,96),(795,48),(797,108),(799,64),(792,3),(795,1),(798,5),
    (800,40),(802,64),(804,92),(806,30),(808,118),(801,56),(803,104),(805,76),(807,20),(809,88),(801,1),(805,4),(808,2),
    (810,34),(812,58),(814,86),(816,44),(818,122),(811,70),(813,98),(815,24),(817,110),(819,62),(811,3),(815,1),(818,5),
    (820,44),(822,66),(824,92),(826,30),(828,116),(821,78),(823,104),(825,54),(827,20),(829,110),(822,2),(825,5),(829,1),
    (830,38),(832,60),(834,88),(836,24),(838,120),(831,70),(833,100),(835,48),(837,110),(839,64),(831,4),(835,1),(838,3),
    (840,42),(842,64),(844,90),(846,30),(848,118),(841,74),(843,104),(845,54),(847,20),(849,108),(841,1),(845,3),(848,5),
    (850,36),(852,60),(854,84),(856,44),(858,114),(851,70),(853,98),(855,24),(857,120),(859,58),(851,2),(855,4),(858,1),
    (860,70),(860,15),(860,50),
    (656,433),(657,355),(612,293),(650,293),(623,265),(650,270),(656,268),(637,243),(646,233),(646,228),(644,220),
    (663,238),(604,225),(613,215),(660,215),(601,193),(601,173),(613,178),(619,190),(621,179),(627,176),(628,200),
    (634,193),(638,211),(641,202),(646,196),(637,182),(643,173),(651,211),(657,195),(654,186),(655,179),(661,184),
    (659,166),(655,156),(658,146),(607,146),(610,136),(618,135),(624,126),(621,121),(631,149),(639,139),(640,126),
    (634,126),(624,148),(652,141),(656,132),
    (833,341),(753,262),(811,274),(812,273),(781,253),(838,253),(767,242),(764,233),(790,234),(787,233),(785,224),
    (836,229),(855,231),(811,223),(676,249),(696,248),(743,225),(735,211),(685,204),(705,196),(746,203),(753,196),
    (747,184),(769,209),(776,205),(779,206),(781,196),(770,192),(776,183),(800,193),(824,212),(836,193),(834,180),
    (843,213),(846,211),(853,201),(807,176),(809,168),(819,165),(822,164),(848,179),(849,171),(853,156),(858,149),
    (855,139),(834,161),(835,149),(841,156),(824,148),(816,159),(798,149),(757,173),(761,165),(767,161),(767,144),
    (717,181),(729,181),(714,171),(721,166),(727,162),(707,170),(698,165),(684,181),(677,173),(680,166),(672,161),
    (686,162),(688,152),(667,218),(669,206),(673,195),(663,185),(743,153),(750,153),(751,146),(766,135),(778,159),
    (784,156),(786,161),(792,161),(807,149),(811,141),(819,135),(827,135),(833,138),(843,141),(851,146),(856,138),
    (859,121),(855,112),
]

# RBFOX1 exon positions (Mb) in the gene schematic
EXON_POS_MB = [5.079, 5.340, 5.505, 5.771, 6.200, 6.538, 6.913, 7.362, 7.452, 7.476,
               7.502, 7.527, 7.552, 7.596, 7.640, 7.674, 7.704, 7.737, 7.772]
EXON_LABELS = {1: "Exon 2", 4: "Exon 5"}
INTRON_LABEL = (2, "Intron 3")   # between exon index 2 and 3

# ---------------- layout helpers ----------------
FIG_W, FIG_H = 2488, 1656
M_L, M_R, M_T, M_B = 126, 8, 9, 0
PLOT_W = FIG_W - M_L - M_R
PLOT_H = FIG_H - M_T - M_B

def px_x(px):
    return (px - M_L) / PLOT_W

def px_y(py):
    return (FIG_H - M_B - py) / PLOT_H

MAIN_PX0, MAIN_PX1 = 134, 2470
main_scale = (MAIN_PX1 - MAIN_PX0) / (REGION_END_MB - REGION_START_MB)
MAIN_X_RANGE = [REGION_START_MB - (MAIN_PX0 - M_L) / main_scale,
                REGION_START_MB + (FIG_W - M_R - MAIN_PX0) / main_scale]

def main_px(x):
    return MAIN_PX0 + (x - REGION_START_MB) * main_scale

GENE_PX_E2, GENE_PX_E5 = 394, 1107
gene_scale = (GENE_PX_E5 - GENE_PX_E2) / (EXON_POS_MB[4] - EXON_POS_MB[1])
GENE_X_RANGE = [EXON_POS_MB[1] - (GENE_PX_E2 - M_L) / gene_scale,
                EXON_POS_MB[1] + (FIG_W - M_R - GENE_PX_E2) / gene_scale]

def gene_px(g):
    return GENE_PX_E2 + (g - EXON_POS_MB[1]) * gene_scale

Y_ZERO_PX, PX_PER_UNIT = 1165, 192
Y_MIN = -0.05
Y_MAX = (Y_ZERO_PX - M_T) / PX_PER_UNIT
MAIN_Y_BOTTOM = px_y(Y_ZERO_PX - Y_MIN * PX_PER_UNIT)

def gene_y(py):
    return px_y(py) / MAIN_Y_BOTTOM

# ---------------- build ----------------
xs, ys = [], []
for seg in [snps_5340_5450, snps_5450_5560, snps_5560_5780, snps_5780_5940, snps_5940_6200]:
    for off_kb, v in seg:
        xs.append(REGION_START_MB + off_kb / 1000.0)
        ys.append(v / 100.0)

fig = go.Figure()
fig.add_trace(go.Scatter(
    x=xs, y=ys, mode="markers", cliponaxis=False, hoverinfo="skip",
    marker=dict(size=19, color="#8EAADB", line=dict(color="#0a0a0a", width=1.6)),
    xaxis="x", yaxis="y"))

lead_y = -math.log10(LEAD_SNP_P)
fig.add_trace(go.Scatter(
    x=[LEAD_SNP_MB], y=[lead_y], mode="markers", cliponaxis=False, hoverinfo="skip",
    marker=dict(symbol="diamond", size=27, color="#FF0000", line=dict(color="#111111", width=2)),
    xaxis="x", yaxis="y"))

# gene backbone
fig.add_trace(go.Scatter(
    x=[EXON_POS_MB[0], EXON_POS_MB[-1]], y=[gene_y(1504)] * 2, mode="lines",
    line=dict(color="black", width=8), hoverinfo="skip", cliponaxis=False,
    xaxis="x2", yaxis="y2"))

shapes = []
shapes.append(dict(type="line", xref="x", yref="y",
                   x0=REGION_START_MB - 0.0010, x1=REGION_END_MB,
                   y0=BONFERRONI_NEG_LOG10, y1=BONFERRONI_NEG_LOG10,
                   line=dict(color="#E8262B", width=5, dash="15px,8px")))
for e in EXON_POS_MB:
    shapes.append(dict(type="rect", xref="x2", yref="y2", xsizemode="pixel", xanchor=e,
                       x0=-5, x1=5, y0=gene_y(1536), y1=gene_y(1472),
                       fillcolor="#FFC000", line=dict(color="black", width=4), layer="above"))

def conn_path(x_main, x_gene, y_top, y_mid, y_bot):
    a = (px_x(main_px(x_main)), px_y(y_top))
    b = (px_x(gene_px(x_gene)), px_y(y_mid))
    c = (px_x(gene_px(x_gene)), px_y(y_bot))
    return f"M {a[0]},{a[1]} L {b[0]},{b[1]} L {c[0]},{c[1]}"

for xm, xg, yt in [(REGION_START_MB, EXON_POS_MB[1], 1196), (REGION_END_MB, EXON_POS_MB[4], 1202)]:
    shapes.append(dict(type="path", xref="paper", yref="paper",
                       path=conn_path(xm, xg, yt, 1341, 1458),
                       line=dict(color="black", width=7, dash="13px,9px")))

LATO = "Lato, 'Open Sans', sans-serif"
ann = []
ann.append(dict(xref="paper", yref="paper", x=px_x(30), y=px_y(586), textangle=-90,
                text="<b>-log<sub>10</sub> <i>P</i>-value</b>", showarrow=False,
                xanchor="center", yanchor="middle", font=dict(family=LATO, size=45, color="black")))
ann.append(dict(xref="paper", yref="paper", x=px_x(1011), y=px_y(128),
                text="<b>Intronic SNP at Chr 20: 5,642,021</b>", showarrow=False,
                xanchor="left", yanchor="middle", font=dict(family=LATO, size=33, color="black")))
ann.append(dict(xref="paper", yref="paper", x=px_x(1011), y=px_y(172),
                text="<b><i>P</i> = 5.92 x 10<sup>-6</sup></b>", showarrow=False,
                xanchor="left", yanchor="middle", font=dict(family=LATO, size=33, color="black")))
ann.append(dict(xref="paper", yref="paper", x=px_x(2467), y=px_y(202),
                text="<b>Bonferroni-adjusted alpha</b>", showarrow=False,
                xanchor="right", yanchor="middle", font=dict(family=LATO, size=35, color="#E8262B")))
ann.append(dict(xref="paper", yref="paper", x=px_x(751), y=px_y(1338),
                text="<b>Chromosome 20: 5.34 - 6.20 Mb</b>", showarrow=False,
                xanchor="center", yanchor="middle", font=dict(family=LATO, size=44, color="black")))
i_int, int_txt = INTRON_LABEL
ann.append(dict(xref="x2", yref="y2", x=(EXON_POS_MB[i_int] + EXON_POS_MB[i_int + 1]) / 2, y=gene_y(1476),
                text=f"<b>{int_txt}</b>", showarrow=False, xanchor="center", yanchor="middle",
                font=dict(family=LATO, size=29, color="black")))
for idx, lab in EXON_LABELS.items():
    ann.append(dict(xref="x2", yref="y2", x=EXON_POS_MB[idx], y=gene_y(1561),
                    text=f"<b>{lab}</b>", showarrow=False, xanchor="center", yanchor="middle",
                    font=dict(family=LATO, size=29, color="black")))
ann.append(dict(xref="paper", yref="paper", x=px_x(1293), y=px_y(1630),
                text="<b><i>RBFOX1</i> (RNA binding fox-1 homolog 1)</b>", showarrow=False,
                xanchor="center", yanchor="middle", font=dict(family=LATO, size=45, color="black")))

fig.update_layout(
    width=FIG_W, height=FIG_H,
    margin=dict(l=M_L, r=M_R, t=M_T, b=M_B, pad=0),
    paper_bgcolor="white", plot_bgcolor="white",
    showlegend=False, hovermode=False,
    xaxis=dict(domain=[0, 1], range=MAIN_X_RANGE, visible=False, anchor="y"),
    yaxis=dict(domain=[MAIN_Y_BOTTOM, 1], range=[Y_MIN, Y_MAX], anchor="x",
               showline=True, linewidth=5, linecolor="black",
               ticks="outside", ticklen=8, tickwidth=5, tickcolor="black",
               tickvals=Y_TICKS, ticktext=[str(t) for t in Y_TICKS],
               tickfont=dict(family="DejaVu Sans", size=33, color="black", weight="bold"),
               ticklabelstandoff=0, ticklabeloverflow="allow",
               showgrid=False, zeroline=False),
    xaxis2=dict(domain=[0, 1], range=GENE_X_RANGE, visible=False, anchor="y2"),
    yaxis2=dict(domain=[0, MAIN_Y_BOTTOM], range=[0, 1], visible=False, anchor="x2"),
    shapes=shapes, annotations=ann,
)

fig.write_html("out.html", config={"displayModeBar": False},
               post_script="document.body.style.margin='0px';")
